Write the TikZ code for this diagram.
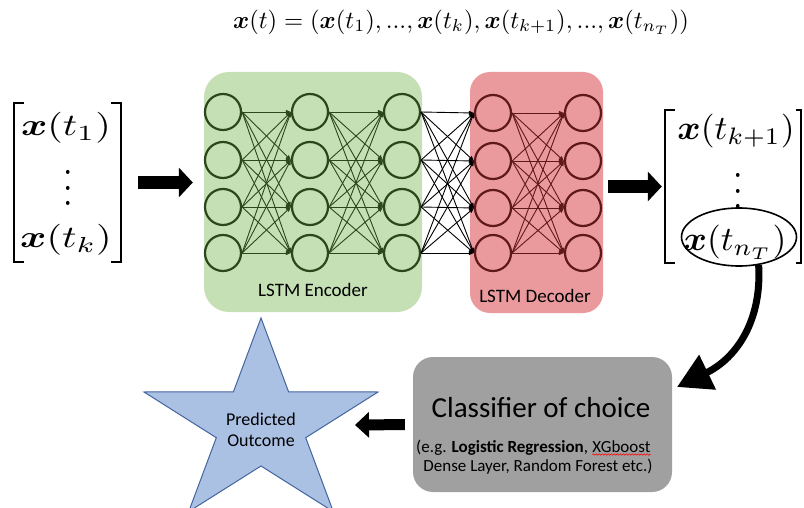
\documentclass[tikz,border=0pt]{standalone}
\usepackage{amsmath}
\usepackage{bm}
\usepackage{graphicx}
\usepackage{fontspec}
\newfontfamily\calib{Carlito}
\usetikzlibrary{arrows.meta,shapes.geometric,decorations.pathmorphing}
\definecolor{encfill}{RGB}{197,224,180}
\definecolor{encline}{RGB}{45,70,30}
\definecolor{decfill}{RGB}{234,153,157}
\definecolor{decline}{RGB}{95,25,25}
\definecolor{clsfill}{RGB}{160,160,160}
\definecolor{starfill}{RGB}{170,193,227}
\definecolor{starline}{RGB}{68,100,160}
\newcommand{\lvecmath}[1]{\scalebox{4.0}[3.1]{$#1$}}
\newcommand{\rvecmath}[1]{\scalebox{3.55}[3.4]{$#1$}}
\newcommand{\bigvdots}{\scalebox{3.4}[3.9]{\vbox{\baselineskip4pt\lineskiplimit0pt\hbox{.}\hbox{.}\hbox{.}}}}
\tikzset{
  bigmath/.style={inner sep=0pt},
  dotsnode/.style={inner sep=0pt, anchor=south},
  bracket/.style={line width=2.2pt},
  blockarrow/.style={line width=13pt, -{Triangle[length=14pt,width=29pt]}},
  smallblock/.style={line width=11pt, -{Triangle[length=14pt,width=25pt]}},
  encbox/.style={fill=encfill, rounded corners=25pt, minimum width=218pt, minimum height=240pt, inner sep=0pt},
  decbox/.style={fill=decfill, rounded corners=20pt, minimum width=133pt, minimum height=241pt, inner sep=0pt},
  eneuron/.style={circle, draw=encline, line width=2.2pt, minimum size=36pt, inner sep=0pt},
  dneuron/.style={circle, draw=decline, line width=2.2pt, minimum size=36pt, inner sep=0pt},
  eedge/.style={draw=encline, line width=0.9pt, -{Triangle[length=5pt,width=4pt]}},
  dedge/.style={draw=decline, line width=0.9pt, -{Triangle[length=5pt,width=4pt]}},
  xedge/.style={draw=black, line width=0.9pt, -{Triangle[length=5pt,width=4pt]}},
  lbl/.style={font=\calib\fontsize{19}{22}\selectfont, inner sep=0pt},
  clsbox/.style={fill=clsfill, rounded corners=20pt, minimum width=259pt, minimum height=135pt, inner sep=0pt},
  startxt/.style={font=\calib\fontsize{18}{21}\selectfont, align=center, inner sep=0pt},
  smalltxt/.style={font=\calib\fontsize{17}{18}\selectfont, inner sep=0pt},
  curvearrow/.style={line width=7pt, -{Triangle[length=34pt,width=37pt]}}
}
\begin{document}
\begin{tikzpicture}[x=1pt,y=-1pt]
\useasboundingbox (0,0) rectangle (804,508);
\clip (0,0) rectangle (804,508);

% title
\node[inner sep=0pt] (title) at (461,22) {\scalebox{2.46}{$\bm{x}(t)=(\bm{x}(t_1),...,\bm{x}(t_k),\bm{x}(t_{k+1}),...,\bm{x}(t_{n_T}))$}};

% left vector
\node (lvec) at (67.5,182.5) [minimum width=107pt, minimum height=159pt, inner sep=0pt] {};
\node[bigmath] (x1) at (66,128) {\lvecmath{\bm{x}(t_1)}};
\node[dotsnode] (vd1) at (68,206) {\bigvdots};
\node[bigmath] (xk) at (66,240) {\lvecmath{\bm{x}(t_k)}};
\draw[bracket] ([xshift=10pt]lvec.north west) -- (lvec.north west) -- (lvec.south west) -- ([xshift=10pt]lvec.south west);
\draw[bracket] ([xshift=-10pt]lvec.north east) -- (lvec.north east) -- (lvec.south east) -- ([xshift=-10pt]lvec.south east);

% boxes
\node[encbox] (enc) at (313,192) {};
\node[decbox] (dec) at (536.5,192.5) {};

% neurons
\foreach \c/\x in {1/223,2/310,3/402}{
  \foreach \r/\y in {1/112,2/160,3/207,4/253}{
    \node[eneuron] (e\c\r) at (\x,\y) {};
  }
}
\foreach \c/\x in {1/493,2/583}{
  \foreach \r/\y in {1/113,2/161,3/208,4/253}{
    \node[dneuron] (d\c\r) at (\x,\y) {};
  }
}
\foreach \i in {1,...,4}{
  \foreach \j in {1,...,4}{
    \draw[eedge] (e1\i.east) -- (e2\j.west);
    \draw[eedge] (e2\i.east) -- (e3\j.west);
    \draw[xedge] (e3\i.east) -- (d1\j.west);
    \draw[dedge] (d1\i.east) -- (d2\j.west);
  }
}
\node[lbl] (enclbl) at (313,290) {LSTM Encoder};
\node[lbl] (declbl) at (535,296) {LSTM Decoder};

% right vector
\node (rvec) at (733,186.5) [minimum width=136pt, minimum height=153pt, inner sep=0pt] {};
\node[bigmath] (xk1) at (736,131) {\rvecmath{\bm{x}(t_{k+1})}};
\node[dotsnode] (vd2) at (738,209) {\bigvdots};
\node[bigmath] (xn) at (735,242) {\rvecmath{\bm{x}(t_{n_T})}};
\draw[bracket] ([xshift=10pt]rvec.north west) -- (rvec.north west) -- (rvec.south west) -- ([xshift=10pt]rvec.south west);
\draw[bracket] ([xshift=-5pt]rvec.north east) -- (rvec.north east) -- (rvec.south east) -- ([xshift=-5pt]rvec.south east);
\node[ellipse, draw, line width=1.6pt, minimum width=115pt, minimum height=58pt, inner sep=0pt] (ell) at (739,237) {};

% arrows
\draw[blockarrow, shorten <=17pt, shorten >=11pt] (lvec.east) -- (lvec.east -| enc.west);
\draw[blockarrow, shorten <=5pt, shorten >=3pt] (dec.east |- rvec.west) -- (rvec.west);

% classifier
\node[clsbox] (cls) at (542.5,424.5) {};
\node[font=\calib\fontsize{29}{32}\selectfont, inner sep=0pt] (clsT) at (541,408) {Classifier of choice};
\node[smalltxt, anchor=base west] (l2a) at (416,452) {(e.g. \textbf{Logistic Regression},};
\node[smalltxt, anchor=base west] (xg) at ([xshift=4pt]l2a.base east) {XGboost};
\draw[red, line width=0.6pt, decorate, decoration={snake, amplitude=0.8pt, segment length=3pt}] ([yshift=-2.5pt]xg.base west) -- ([yshift=-2.5pt]xg.base east);
\node[smalltxt] (l3) at (538,467) {Dense Layer, Random Forest etc.)};

\coordinate (ctip) at (677,387);
\draw[curvearrow] (ell.-55) .. controls (762,320) and (737,358) .. (ctip);

% star
\draw[fill=starfill, draw=starline, line width=1pt] (261,318) -- (288.6,391.8) -- (378,392) -- (305.7,437.7) -- (333.3,511.6) -- (261,466) -- (188.7,511.6) -- (216.3,437.7) -- (144,392) -- (233.4,391.8) -- cycle;
\node[startxt] (star) at (261,430) {Predicted\\Outcome};
\coordinate (tip3) at (355,425);
\draw[smallblock, shorten <=8pt] (cls.west) -- (tip3);
\end{tikzpicture}
\end{document}
